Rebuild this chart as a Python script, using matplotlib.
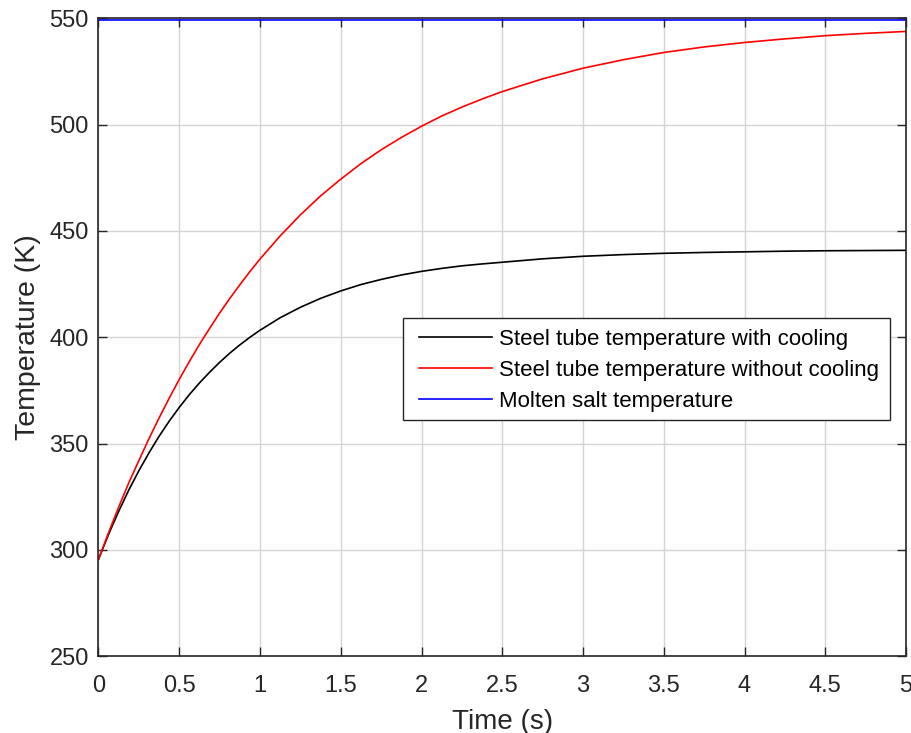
import matplotlib.pyplot as plt
from matplotlib.patches import Rectangle

# time axis (s) and temperatures (K)
t = [0, 0.0625, 0.125, 0.1875, 0.25, 0.3125, 0.375, 0.4375, 0.5, 0.5625,
     0.625, 0.6875, 0.75, 0.8125, 0.875, 0.9375, 1.0, 1.125, 1.25, 1.375,
     1.5, 1.625, 1.75, 1.875, 2.0, 2.125, 2.25, 2.375, 2.5, 2.75, 3.0,
     3.25, 3.5, 3.75, 4.0, 4.25, 4.5, 4.75, 5.0]
with_cooling = [295.5, 307.3, 318.1, 328.1, 337.2, 345.6, 353.4, 360.5,
                367.0, 373.0, 378.5, 383.5, 388.2, 392.5, 396.4, 400.0,
                403.3, 409.2, 414.1, 418.3, 421.8, 424.8, 427.2, 429.3,
                431.0, 432.4, 433.6, 434.5, 435.3, 436.9, 438.1, 438.9,
                439.5, 439.9, 440.2, 440.5, 440.7, 440.8, 440.9]
without_cooling = [295.5, 308.1, 320.1, 331.5, 342.0, 352.3, 362.0, 371.3,
                   380.2, 388.6, 396.6, 404.1, 411.4, 418.2, 424.7, 430.9,
                   436.8, 447.7, 457.6, 466.5, 474.4, 481.7, 488.2, 494.0,
                   499.3, 504.1, 508.3, 512.1, 515.6, 521.6, 526.6, 530.6,
                   534.0, 536.6, 538.7, 540.4, 541.9, 543.0, 543.9]
molten_salt = [549.4] * len(t)

labels = ["Steel tube temperature with cooling",
          "Steel tube temperature without cooling",
          "Molten salt temperature"]

plt.rcParams["font.family"] = ["Liberation Sans", "DejaVu Sans"]

fig = plt.figure(figsize=(9.12, 7.33), dpi=100)
ax = fig.add_axes([0.108, 0.105, 0.8855, 0.8698])

ax.plot(t, with_cooling, color="black", lw=1.2, label=labels[0])
ax.plot(t, without_cooling, color="red", lw=1.2, label=labels[1])
ax.plot(t, molten_salt, color="blue", lw=1.2, label=labels[2])

ax.set_xlim(0, 5)
ax.set_ylim(250, 550)
ax.set_xticks([0, 0.5, 1, 1.5, 2, 2.5, 3, 3.5, 4, 4.5, 5])
ax.set_xticklabels(["0", "0.5", "1", "1.5", "2", "2.5", "3", "3.5", "4", "4.5", "5"])
ax.set_yticks(range(250, 551, 50))

ax.grid(True, color="#d4d4d4", lw=1)
ax.tick_params(direction="in", top=True, right=True, length=6.5, width=1,
               colors="#262626", labelsize=17, pad=7)
ax.tick_params(axis="x", pad=14)
for s in ax.spines.values():
    s.set_color("#262626")
    s.set_linewidth(1.2)

ax.set_xlabel("Time (s)", fontsize=20, color="#262626", labelpad=8)
ax.set_ylabel("Temperature (K)", fontsize=20.5, color="#262626", labelpad=6)

# legend entries without frame, box drawn separately (MATLAB-like padding)
leg = ax.legend(loc="upper left", bbox_to_anchor=(0.397, 0.513), borderaxespad=0,
                fontsize=16, handlelength=3.3, handletextpad=0.3,
                borderpad=0, labelspacing=0.45, frameon=False)
ax.add_patch(Rectangle((0.3775, 0.370), 0.6025, 0.1607, transform=ax.transAxes,
                       facecolor="white", edgecolor="#262626", lw=1.0, zorder=4.5))
leg.set_zorder(5)

fig.savefig("out.png", dpi=100)
